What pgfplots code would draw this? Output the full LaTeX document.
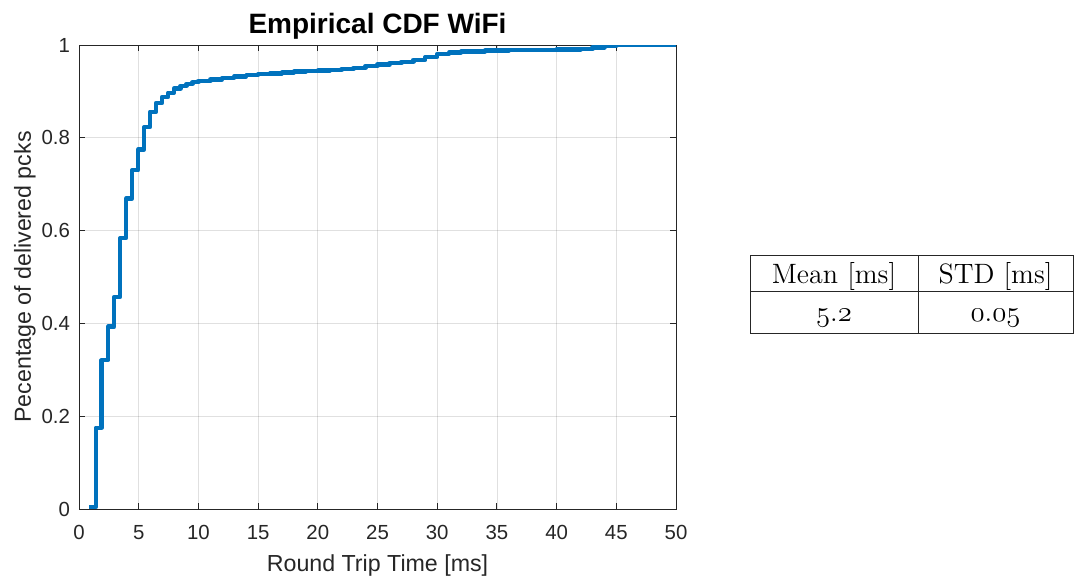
\documentclass[border=0pt]{standalone}
\usepackage{pgfplots}
\pgfplotsset{compat=1.18}
\usepackage{fontspec}
\newfontfamily\arial{Liberation Sans}
\definecolor{mblue}{RGB}{0,114,189}
\definecolor{axgray}{RGB}{38,38,38}
\newcommand{\osf}[1]{{\usefont{OML}{cmm}{m}{it}#1}}
\begin{document}
\begin{tikzpicture}
\path[use as bounding box] (0pt,0pt) rectangle (537pt,290pt);
\begin{axis}[
  at={(39.5pt,35.5pt)}, anchor=south west,
  scale only axis, width=298.5pt, height=232pt,
  xmin=0, xmax=50, ymin=0, ymax=1,
  xtick={0,5,...,50}, ytick={0,0.2,0.4,0.6,0.8,1},
  tick align=inside, major tick length=3pt,
  xtick pos=both, ytick pos=both,
  grid=major,
  major grid style={draw=black, opacity=0.12, line width=0.4pt},
  axis line style={draw=axgray, line width=0.5pt},
  tick style={draw=axgray, line width=0.5pt},
  /pgf/number format/assume math mode=true,
  ticklabel style={font=\arial\fontsize{10.2}{12}\selectfont, text=axgray},
  xticklabel style={yshift=-4.5pt},
  yticklabel style={xshift=-1pt},
  xlabel={Round Trip Time [ms]},
  ylabel={Pecentage of delivered pcks},
  label style={font=\arial\fontsize{11.6}{14}\selectfont, text=axgray},
  xlabel style={at={(axis description cs:0.5,0)}, anchor=base, yshift=-31pt},
  ylabel style={at={(axis description cs:-0.0905,0.5)}, anchor=center},
  title={Empirical CDF WiFi},
  title style={font=\arial\bfseries\fontsize{14}{16}\selectfont, at={(axis description cs:0.5,1)}, anchor=base},
]
\addplot[const plot, draw=mblue, line width=2.2pt, line join=round] coordinates {
(0.85,0.004) (1.4,0.175) (1.9,0.321) (2.45,0.393) (2.95,0.457) (3.45,0.584)
(3.95,0.669) (4.45,0.73) (4.95,0.775) (5.45,0.823) (5.95,0.856) (6.45,0.875)
(6.95,0.888) (7.45,0.897) (7.95,0.906) (8.5,0.912) (9.0,0.916) (9.5,0.92)
(10.0,0.923) (11,0.926) (12,0.929) (13,0.932) (14,0.935) (15,0.937) (16,0.939)
(17,0.941) (18,0.943) (19,0.944) (20,0.945) (21,0.946) (22,0.948) (23,0.951)
(24,0.955) (25,0.958) (26,0.961) (27,0.964) (28,0.968) (29,0.974) (30,0.981)
(31,0.984) (32,0.986) (34,0.988) (36,0.989) (40,0.990) (42,0.991) (43,0.995)
(44,0.999) (45,1.0) (50,1.0)
};
\end{axis}
% table
\draw[line width=0.5pt, draw=black!85] (375pt,123.5pt) rectangle (536.5pt,162.5pt);
\draw[line width=0.5pt, draw=black!85] (375pt,144.5pt) -- (536.5pt,144.5pt);
\draw[line width=0.5pt, draw=black!85] (459pt,123.5pt) -- (459pt,162.5pt);
\node[anchor=base, inner sep=0pt, font=\fontsize{14}{16}\selectfont] at (417pt,148.3pt) {Mean [ms]};
\node[anchor=base, inner sep=0pt, font=\fontsize{14}{16}\selectfont] at (497.75pt,148.3pt) {STD [ms]};
\node[anchor=base, inner sep=0pt, font=\fontsize{14}{16}\selectfont] at (417pt,129.5pt) {\osf{5}.\osf{2}};
\node[anchor=base, inner sep=0pt, font=\fontsize{14}{16}\selectfont] at (497.75pt,129.5pt) {\osf{0}.\osf{05}};
\end{tikzpicture}
\end{document}
